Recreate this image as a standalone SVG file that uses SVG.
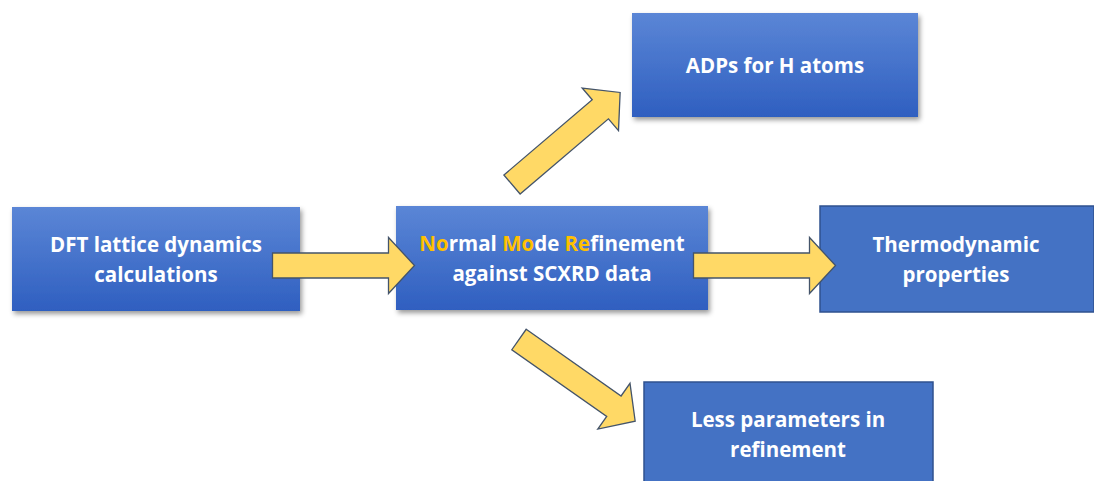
<svg xmlns="http://www.w3.org/2000/svg" width="1094" height="481" viewBox="0 0 1094 481">
  <defs>
    <linearGradient id="grad" x1="0" y1="0" x2="0" y2="1">
      <stop offset="0" stop-color="#5b86d6"/>
      <stop offset="1" stop-color="#2f5fc0"/>
    </linearGradient>
    <filter id="shadow" x="-10%" y="-10%" width="125%" height="135%">
      <feDropShadow dx="2" dy="3" stdDeviation="2.5" flood-color="#000" flood-opacity="0.4"/>
    </filter>
    <path id="arrow" d="M0,-12.5 H116 V-28 L142,0 L116,28 V12.5 H0 Z"/>
  </defs>
  <style>
    .gbox { fill: url(#grad); filter: url(#shadow); }
    .fbox { fill: #4472c4; stroke: #2f528f; stroke-width: 1.5; }
    .lbl { font-family: "Open Sans", "Liberation Sans", Arial, sans-serif; font-weight: 700; font-size: 20.5px; fill: #ffffff; text-anchor: middle; }
    .hl { fill: #ffc000; }
    .arr { fill: #ffd966; stroke: #44546a; stroke-width: 1.3; stroke-linejoin: miter; }
  </style>
  <rect width="1094" height="481" fill="#ffffff"/>

  <g id="node-dft">
    <rect class="gbox" x="12" y="207" width="288" height="104"/>
    <text class="lbl" x="156" y="252">DFT lattice dynamics</text>
    <text class="lbl" x="156" y="282">calculations</text>
  </g>

  <g id="node-nmr">
    <rect class="gbox" x="396" y="206" width="312" height="104"/>
    <text class="lbl" x="552" y="251"><tspan class="hl">No</tspan>rmal <tspan class="hl">Mo</tspan>de <tspan class="hl">Re</tspan>finement</text>
    <text class="lbl" x="552" y="281">against SCXRD data</text>
  </g>

  <g id="node-adps">
    <rect class="gbox" x="632" y="13" width="286" height="104"/>
    <text class="lbl" x="775" y="73">ADPs for H atoms</text>
  </g>

  <g id="node-thermo">
    <rect class="fbox" x="820" y="206" width="274" height="106"/>
    <text class="lbl" x="956" y="252">Thermodynamic</text>
    <text class="lbl" x="956" y="282">properties</text>
  </g>

  <g id="node-less">
    <rect class="fbox" x="644" y="382" width="289" height="110"/>
    <text class="lbl" x="788" y="427">Less parameters in</text>
    <text class="lbl" x="788" y="457">refinement</text>
  </g>

  <g id="connectors">
    <use href="#arrow" class="arr" transform="translate(272.5,265.5)"/>
    <use href="#arrow" class="arr" transform="translate(693.5,265.5)"/>
    <use href="#arrow" class="arr" transform="translate(512,184.5) rotate(-40.4)"/>
    <use href="#arrow" class="arr" transform="translate(519,339.5) rotate(35.1)"/>
  </g>
</svg>
